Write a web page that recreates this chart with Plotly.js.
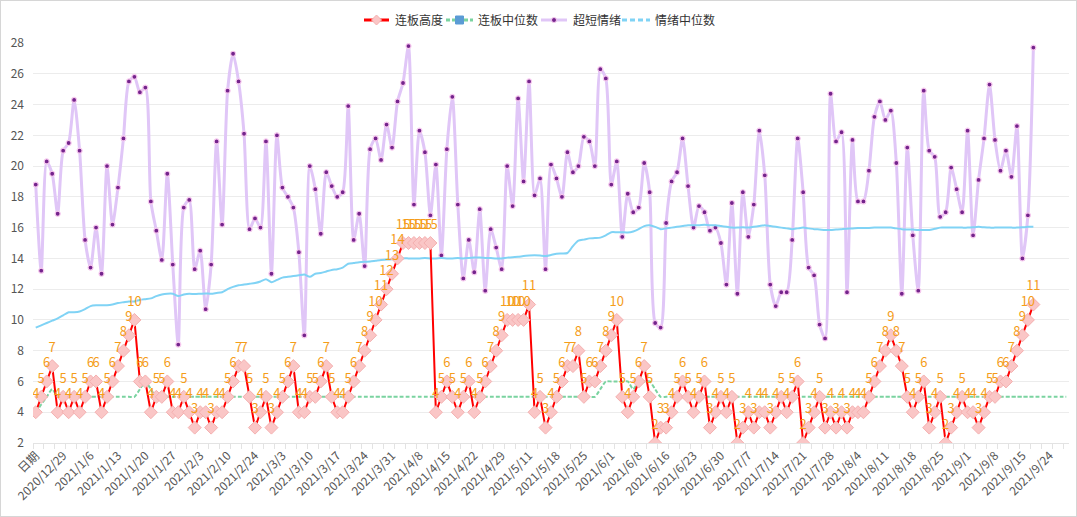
<!DOCTYPE html>
<html>
<head>
<meta charset="utf-8">
<script src="https://cdn.plot.ly/plotly-3.0.1.min.js"></script>
<style>
html,body{margin:0;padding:0;background:#fff;}
#chart{position:absolute;left:0;top:0;width:1077px;height:517px;}
#frame{position:absolute;left:0;top:0;width:1077px;height:517px;box-sizing:border-box;border:1px solid #d6d6d6;pointer-events:none;}
</style>
</head>
<body>
<div id="chart"></div>
<div id="frame"></div>
<script>
// x categories (first entry is the header cell "日期")
const dates = [
"日期","2020/12/23","2020/12/24","2020/12/25","2020/12/28","2020/12/29","2020/12/30","2020/12/31",
"2021/1/4","2021/1/5","2021/1/6","2021/1/7","2021/1/8","2021/1/11","2021/1/12","2021/1/13","2021/1/14","2021/1/15","2021/1/18","2021/1/19","2021/1/20","2021/1/21","2021/1/22","2021/1/25","2021/1/26","2021/1/27","2021/1/28","2021/1/29",
"2021/2/1","2021/2/2","2021/2/3","2021/2/4","2021/2/5","2021/2/8","2021/2/9","2021/2/10","2021/2/18","2021/2/19","2021/2/22","2021/2/23","2021/2/24","2021/2/25","2021/2/26",
"2021/3/1","2021/3/2","2021/3/3","2021/3/4","2021/3/5","2021/3/8","2021/3/9","2021/3/10","2021/3/11","2021/3/12","2021/3/15","2021/3/16","2021/3/17","2021/3/18","2021/3/19","2021/3/22","2021/3/23","2021/3/24","2021/3/25","2021/3/26","2021/3/29","2021/3/30","2021/3/31",
"2021/4/1","2021/4/2","2021/4/6","2021/4/7","2021/4/8","2021/4/9","2021/4/12","2021/4/13","2021/4/14","2021/4/15","2021/4/16","2021/4/19","2021/4/20","2021/4/21","2021/4/22","2021/4/23","2021/4/26","2021/4/27","2021/4/28","2021/4/29","2021/4/30",
"2021/5/6","2021/5/7","2021/5/10","2021/5/11","2021/5/12","2021/5/13","2021/5/14","2021/5/17","2021/5/18","2021/5/19","2021/5/20","2021/5/21","2021/5/24","2021/5/25","2021/5/26","2021/5/27","2021/5/28","2021/5/31",
"2021/6/1","2021/6/2","2021/6/3","2021/6/4","2021/6/7","2021/6/8","2021/6/9","2021/6/10","2021/6/11","2021/6/15","2021/6/16","2021/6/17","2021/6/18","2021/6/21","2021/6/22","2021/6/23","2021/6/24","2021/6/25","2021/6/28","2021/6/29","2021/6/30",
"2021/7/1","2021/7/2","2021/7/5","2021/7/6","2021/7/7","2021/7/8","2021/7/9","2021/7/12","2021/7/13","2021/7/14","2021/7/15","2021/7/16","2021/7/19","2021/7/20","2021/7/21","2021/7/22","2021/7/23","2021/7/26","2021/7/27","2021/7/28","2021/7/29","2021/7/30",
"2021/8/2","2021/8/3","2021/8/4","2021/8/5","2021/8/6","2021/8/9","2021/8/10","2021/8/11","2021/8/12","2021/8/13","2021/8/16","2021/8/17","2021/8/18","2021/8/19","2021/8/20","2021/8/23","2021/8/24","2021/8/25","2021/8/26","2021/8/27","2021/8/30","2021/8/31",
"2021/9/1","2021/9/2","2021/9/3","2021/9/6","2021/9/7","2021/9/8","2021/9/9","2021/9/10","2021/9/13","2021/9/14","2021/9/15","2021/9/16","2021/9/17","2021/9/22","2021/9/23","2021/9/24","2021/9/27","2021/9/28","2021/9/29"
];

// 连板高度
const boardHeight = [
4,5,6,7,4,5,4,5,4,5,
6,6,4,5,6,7,8,9,10,6,
6,4,5,5,6,4,4,5,4,3,
4,4,3,4,4,5,6,7,7,5,
3,4,5,3,4,5,6,7,4,4,
5,5,6,7,5,4,4,5,6,7,
8,9,10,11,12,13,14,15,15,15,
15,15,15,4,5,6,5,4,5,6,
4,5,6,7,8,9,10,10,10,10,
11,4,5,3,4,5,6,7,7,8,
5,6,6,7,8,9,10,5,4,5,
6,7,5,2,3,3,4,5,6,5,
4,5,6,3,4,5,4,5,2,3,
4,3,4,4,3,4,5,4,5,6,
2,3,4,5,3,4,3,4,3,4,
4,4,5,6,7,8,9,8,7,5,
4,5,6,3,4,5,2,3,4,5,
4,4,3,4,5,5,6,6,7,8,
9,10,11
];

// 连板中位数
const boardMedian = [
4,4.5,5,5.5,5,5,5,5,5,5,
5,5,5,5,5,5,5,5,5,5.5,
6,5.5,5,5,5,5,5,5,5,5,
5,5,5,5,5,5,5,5,5,5,
5,5,5,5,5,5,5,5,5,5,
5,5,5,5,5,5,5,5,5,5,
5,5,5,5,5,5,5,5,5,5,
5,5,5,5,5,5,5,5,5,5,
5,5,5,5,5,5,5,5,5,5,
5,5,5,5,5,5,5,5,5,5,
5,5,5,5.5,6,6,6,6,6,5.5,
6,6,6,5.5,5,5,5,5,5,5,
5,5,5,5,5,5,5,5,5,5,
5,5,5,5,5,5,5,5,5,5,
5,5,5,5,5,5,5,5,5,5,
5,5,5,5,5,5,5,5,5,5,
5,5,5,5,5,5,5,5,5,5,
5,5,5,5,5,5,5,5,5,5,
5,5,5,5,5,5,5,5,5
];

// 超短情绪
const sentiment = [
18.8,13.2,20.3,19.5,16.9,21.0,21.5,24.3,21.0,15.2,
13.4,16.0,13.0,20.0,16.2,18.6,21.8,25.5,25.8,24.8,
25.1,17.7,15.8,13.9,19.5,13.6,8.4,17.3,17.8,13.3,
14.5,10.7,13.6,21.6,16.2,24.9,27.3,25.5,22.1,15.9,
16.6,16.0,21.6,13.0,22.0,18.6,18.0,17.3,14.4,9.0,
20.0,18.5,15.6,19.6,18.7,18.0,18.3,23.9,15.2,16.9,
13.5,21.1,21.8,20.4,22.7,21.2,24.2,25.4,27.8,17.5,
22.3,20.9,16.8,20.1,14.2,21.1,24.5,17.5,12.7,15.2,
13.1,17.2,11.9,15.9,14.7,13.3,20.0,17.4,24.4,19.0,
25.5,18.1,19.2,13.3,20.1,19.2,18.0,20.9,19.6,20.0,
21.9,21.6,20.0,26.3,25.7,18.8,20.3,15.4,18.2,17.0,
17.3,20.2,18.3,9.8,9.5,16.3,19.0,19.6,21.8,18.7,
16.0,17.4,17.0,15.8,16.0,15.0,12.3,17.6,11.7,18.3,
15.4,17.5,22.3,19.4,12.3,10.9,11.8,11.8,15.2,21.8,
18.3,13.4,12.9,9.7,8.8,24.7,21.6,22.2,11.8,21.7,
17.7,17.7,19.7,23.2,24.2,23.0,23.6,20.2,11.7,21.2,
15.5,11.9,24.9,21.0,20.6,16.7,17.0,19.9,18.5,17.0,
22.3,15.5,19.1,21.8,25.3,21.7,19.7,21.0,19.3,22.6,
14.0,16.8,27.7
];

// 情绪中位数
const sentimentMedian = [
9.5,9.65,9.8,9.95,10.1,10.3,10.5,10.5,10.55,10.7,
10.9,10.95,10.95,10.95,11.0,11.1,11.15,11.2,11.2,11.3,
11.35,11.4,11.55,11.65,11.7,11.7,11.55,11.65,11.7,11.68,
11.7,11.72,11.7,11.75,11.8,12.0,12.15,12.25,12.3,12.35,
12.4,12.5,12.65,12.45,12.6,12.75,12.8,12.85,12.9,12.95,
12.8,13.0,13.05,13.15,13.25,13.3,13.4,13.65,13.7,13.75,
13.78,13.8,13.85,13.9,13.92,13.95,13.97,14.0,14.0,14.0,
14.0,14.02,14.0,14.0,14.02,14.0,14.0,14.02,14.0,14.03,
14.05,14.05,14.03,14.02,14.0,14.0,14.05,14.08,14.1,14.15,
14.18,14.2,14.18,14.15,14.22,14.3,14.32,14.35,14.8,15.15,
15.22,15.3,15.32,15.35,15.5,15.7,15.7,15.7,15.68,15.75,
15.9,16.1,16.15,16.05,15.9,15.95,16.0,16.05,16.1,16.15,
16.15,16.15,16.18,16.15,16.15,16.1,16.05,16.0,16.0,16.02,
16.0,16.05,16.1,16.15,16.1,16.05,16.0,15.95,15.9,15.95,
16.0,15.95,15.9,15.88,15.85,15.85,15.88,15.9,15.92,15.95,
15.97,15.98,15.98,16.0,16.0,16.0,16.0,15.95,15.9,15.88,
15.87,15.85,15.85,15.85,15.92,16.0,16.0,16.0,16.0,16.0,
16.0,16.02,16.05,16.02,16.0,16.0,16.0,16.0,16.0,16.0,
16.02,16.05,16.05
];

const seriesNames = ["连板高度","连板中位数","超短情绪","情绪中位数"];

const RED = '#ff0000', GREEN = '#7ad3a0', PURPLE = '#e0c6f7', BLUE = '#80d3f5';
const FONT = '"Noto Sans CJK SC", "Noto Sans", sans-serif';

const N = dates.length;
const xShort = dates.slice(0, boardHeight.length);
const xSent = dates.slice(0, sentiment.length);
const xMed = dates.slice(0, sentimentMedian.length);

const traces = [
  { // 连板中位数 line
    x: dates, y: boardMedian, type: 'scatter', mode: 'lines', name: seriesNames[1], hoverinfo: 'skip',
    line: {color: GREEN, width: 2, dash: '4px,2px', shape: 'spline', smoothing: 0.6}
  },
  { // 超短情绪
    x: xSent, y: sentiment, type: 'scatter', mode: 'lines+markers', name: seriesNames[2],
    line: {color: PURPLE, width: 3, shape: 'spline', smoothing: 0.7},
    marker: {size: 5, color: '#74248c', line: {color: '#f7c9ef', width: 1.2}}
  },
  { // 情绪中位数
    x: xMed, y: sentimentMedian, type: 'scatter', mode: 'lines', name: seriesNames[3],
    line: {color: BLUE, width: 2, shape: 'spline', smoothing: 0.6}
  },
  { // 连板高度
    x: xShort, y: boardHeight, type: 'scatter', mode: 'lines+markers', name: seriesNames[0],
    line: {color: RED, width: 2},
    marker: {symbol: 'diamond', size: 10, color: '#fac6c6', line: {color: '#f4b0b0', width: 1}}
  },
  { // value labels
    x: xShort, y: boardHeight, type: 'scatter', mode: 'markers+text', hoverinfo: 'skip',
    text: boardHeight.map(String), textposition: 'top center',
    textfont: {color: '#f59d1a', size: 13, family: FONT},
    marker: {size: 16, color: 'rgba(0,0,0,0)'}
  },
  { x: [null], y: [null], xaxis: 'x2', yaxis: 'y', type: 'scatter', mode: 'lines', hoverinfo: 'skip' }
];

// ---- hand-drawn legend (pixel positions converted to paper units) ----
const ML = 33, MR = 8, MT = 43, MB = 74, W = 1077, H = 517;
const PW = W - ML - MR, PH = H - MT - MB;
const px = v => (v - ML) / PW;
const py = v => (H - MB - v) / PH;
const LY = 20;
function seg(x0, x1, color, dash) {
  return {type: 'line', xref: 'paper', yref: 'paper', x0: px(x0), x1: px(x1), y0: py(LY), y1: py(LY),
          line: {color: color, width: 3, dash: dash || 'solid'}, layer: 'above'};
}
function poly(pts, fill, lineColor) {
  const d = pts.map((p, i) => (i ? 'L' : 'M') + px(p[0]) + ',' + py(p[1])).join(' ') + ' Z';
  return {type: 'path', xref: 'paper', yref: 'paper', path: d, fillcolor: fill,
          line: {color: lineColor, width: 1}, layer: 'above'};
}
const legendItems = [
  {name: seriesNames[0], l0: 364, l1: 389, tx: 393},
  {name: seriesNames[1], l0: 446, l1: 473, tx: 476},
  {name: seriesNames[2], l0: 541, l1: 567, tx: 571},
  {name: seriesNames[3], l0: 622, l1: 650, tx: 653}
];
const shapes = [
  seg(legendItems[0].l0, legendItems[0].l1, RED),
  poly([[376.5, LY - 5], [381.5, LY], [376.5, LY + 5], [371.5, LY]], '#fac6c6', '#f4b0b0'),
  seg(legendItems[1].l0, legendItems[1].l1, GREEN, '4px,2px'),
  poly([[455.5, LY - 4], [463.5, LY - 4], [463.5, LY + 4], [455.5, LY + 4]], '#5b9bd5', '#5b9bd5'),
  seg(legendItems[2].l0, legendItems[2].l1, PURPLE),
  {type: 'circle', xref: 'paper', yref: 'paper', x0: px(551.5), x1: px(556.5), y0: py(LY + 2.5), y1: py(LY - 2.5),
   fillcolor: '#74248c', line: {color: '#f7c9ef', width: 1}, layer: 'above'},
  seg(legendItems[3].l0, legendItems[3].l1, BLUE, '5px,3px')
];
const annotations = legendItems.map(it => ({
  xref: 'paper', yref: 'paper', x: px(it.tx), y: py(LY), xanchor: 'left', yanchor: 'middle',
  text: it.name, showarrow: false, font: {size: 12, color: '#333', family: FONT}
}));

const layout = {
  width: W, height: H,
  margin: {l: ML, r: MR, t: MT, b: MB},
  paper_bgcolor: '#ffffff', plot_bgcolor: '#ffffff',
  font: {family: FONT, color: '#333'},
  showlegend: false,
  shapes: shapes,
  annotations: annotations,
  xaxis: {type: 'category', categoryorder: 'array', categoryarray: dates, range: [-0.5, N - 0.5],
          tickmode: 'linear', tick0: 0, dtick: 5, tickangle: -45, ticks: '', showgrid: false,
          showline: true, linecolor: '#e3e3e3', linewidth: 1, zeroline: false,
          tickfont: {size: 12, color: '#555'}, fixedrange: true},
  xaxis2: {overlaying: 'x', anchor: 'y', side: 'bottom', type: 'linear', range: [-0.5, N - 0.5],
           tickmode: 'linear', tick0: -0.5, dtick: 2, ticks: 'outside', ticklen: 5, tickcolor: '#e3e3e3',
           showticklabels: false, showgrid: false, zeroline: false, showline: false},
  yaxis: {range: [2, 28], tickmode: 'linear', tick0: 2, dtick: 2, gridcolor: '#ececec', zeroline: false,
          showline: false, ticks: '', tickfont: {size: 12, color: '#555'}, ticklabelstandoff: 8, fixedrange: true}
};

Plotly.newPlot('chart', traces, layout, {displayModeBar: false, staticPlot: true});
</script>
</body>
</html>
